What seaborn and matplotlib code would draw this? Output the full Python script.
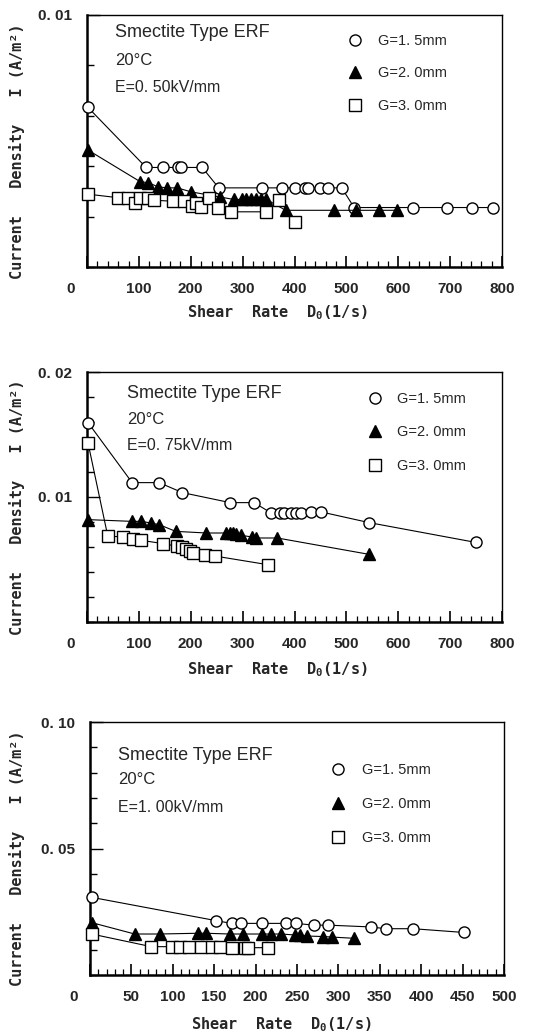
import numpy as np
import pandas as pd
import matplotlib
matplotlib.use("Agg")
import matplotlib.pyplot as plt
from matplotlib.lines import Line2D
from matplotlib.ticker import MultipleLocator, FixedLocator, FixedFormatter
from matplotlib.transforms import ScaledTranslation
import seaborn as sns

sns.set_style("ticks")
plt.rcParams['font.family'] = ['Liberation Sans', 'DejaVu Sans']

# ---------------- data ----------------
# Panel 1 : E = 0.50 kV/mm
p1_g15_x = [2, 114, 147, 175, 181, 222, 254, 337, 375, 401, 420, 426, 449, 465, 491, 515, 628, 694, 743, 783]
p1_g15_y = [0.00633, 0.00395, 0.00395, 0.00395, 0.00395, 0.00395, 0.00314, 0.00314, 0.00314, 0.00314,
            0.00314, 0.00314, 0.00314, 0.00314, 0.00314, 0.00236, 0.00236, 0.00236, 0.00236, 0.00236]
p1_g20_x = [2, 103, 118, 137, 155, 174, 201, 256, 283, 298, 307, 317, 326, 335, 346, 383, 477, 518, 563, 598]
p1_g20_y = [0.00464, 0.00338, 0.00335, 0.00318, 0.00314, 0.00314, 0.00298, 0.00278, 0.00268, 0.00268,
            0.00268, 0.00268, 0.00268, 0.00268, 0.00268, 0.00225, 0.00225, 0.00225, 0.00225, 0.00225]
p1_g30_x = [2, 60, 79, 92, 102, 118, 129, 165, 187, 203, 211, 220, 236, 253, 278, 346, 371, 400]
p1_g30_y = [0.00289, 0.00275, 0.00275, 0.00252, 0.00275, 0.00275, 0.00265, 0.00261, 0.00261, 0.00241,
            0.00252, 0.00238, 0.00272, 0.00236, 0.00219, 0.00219, 0.00265, 0.00179]

# Panel 2 : E = 0.75 kV/mm
p2_g15_x = [2, 87, 139, 184, 276, 322, 354, 373, 380, 393, 402, 412, 432, 452, 544, 749]
p2_g15_y = [0.01595, 0.01115, 0.01115, 0.01035, 0.00955, 0.00955, 0.00875, 0.00875, 0.00875, 0.00875,
            0.00875, 0.00875, 0.00880, 0.00880, 0.00795, 0.00637]
p2_g20_x = [2, 87, 105, 123, 139, 171, 230, 267, 275, 281, 288, 297, 319, 326, 367, 544]
p2_g20_y = [0.00819, 0.00805, 0.00805, 0.00792, 0.00779, 0.00725, 0.00712, 0.00712, 0.00712, 0.00712,
            0.00707, 0.00693, 0.00680, 0.00672, 0.00672, 0.00541]
p2_g30_x = [2, 40, 69, 89, 105, 147, 174, 184, 191, 198, 204, 227, 246, 348]
p2_g30_y = [0.01432, 0.00688, 0.00680, 0.00667, 0.00653, 0.00627, 0.00605, 0.00600, 0.00587, 0.00568,
            0.00555, 0.00533, 0.00528, 0.00459]

# Panel 3 : E = 1.00 kV/mm
p3_g15_x = [2, 152, 171, 182, 208, 237, 249, 270, 288, 339, 357, 390, 452]
p3_g15_y = [0.0307, 0.0215, 0.0204, 0.0204, 0.0204, 0.0204, 0.0204, 0.0197, 0.0197, 0.0190, 0.0183, 0.0183, 0.0168]
p3_g20_x = [2, 54, 84, 130, 140, 169, 185, 208, 219, 231, 248, 254, 262, 282, 292, 319]
p3_g20_y = [0.0207, 0.0162, 0.0162, 0.0165, 0.0165, 0.0162, 0.0162, 0.0162, 0.0162, 0.0162,
            0.0158, 0.0158, 0.0154, 0.0152, 0.0150, 0.0145]
p3_g30_x = [2, 74, 99, 109, 120, 134, 147, 157, 172, 187, 191, 215]
p3_g30_y = [0.0162, 0.0112, 0.0112, 0.0112, 0.0112, 0.0112, 0.0112, 0.0112, 0.0108, 0.0108, 0.0108, 0.0108]

series_labels = ["G=1. 5mm", "G=2. 0mm", "G=3. 0mm"]
field_labels = ["E=0. 50kV/mm", "E=0. 75kV/mm", "E=1. 00kV/mm"]
ytick_vals = [[0.01], [0.01, 0.02], [0.05, 0.10]]
ytick_text = [["0. 01"], ["0. 01", "0. 02"], ["0. 05", "0. 10"]]
xtick_vals = [list(range(0, 801, 100)), list(range(0, 801, 100)), list(range(0, 501, 50))]

panels = [
    [(p1_g15_x, p1_g15_y), (p1_g20_x, p1_g20_y), (p1_g30_x, p1_g30_y)],
    [(p2_g15_x, p2_g15_y), (p2_g20_x, p2_g20_y), (p2_g30_x, p2_g30_y)],
    [(p3_g15_x, p3_g15_y), (p3_g20_x, p3_g20_y), (p3_g30_x, p3_g30_y)],
]

# ---------------- layout / style ----------------
W, H = 537, 1033
fig = plt.figure(figsize=(W / 100, H / 100), dpi=100)
fig.patch.set_facecolor("white")

# axes boxes in pixels: left, top, right, bottom
boxes = [(87, 15, 502, 267), (87, 372, 502, 622), (90, 722, 504, 975)]
ylims = [(0, 0.01), (0, 0.02), (0, 0.10)]
xlims = [(0, 800), (0, 800), (0, 500)]
yminor = [0.002, 0.002, 0.01]
xminor = [20, 20, 10]
legend_pos = [(0.628, 0.925, 1.27), (0.676, 0.92, 1.33), (0.581, 0.838, 1.38)]
legend_pad = [1.1, 1.0, 1.15]
text_pos = [(0.067, [0.929, 0.821, 0.714]), (0.096, [0.916, 0.808, 0.708]), (0.068, [0.866, 0.771, 0.664])]
xlabel_pos = [(0.458, -0.143), (0.458, -0.152), (0.461, -0.158)]

styles = [
    dict(marker='o', markerfacecolor='white', markeredgecolor='black', markersize=8),
    dict(marker='^', markerfacecolor='black', markeredgecolor='black', markersize=8),
    dict(marker='s', markerfacecolor='white', markeredgecolor='black', markersize=8),
]

mono = 'DejaVu Sans Mono'

for i, (box, data) in enumerate(zip(boxes, panels)):
    l, t, r, b = box
    ax = fig.add_axes([l / W, 1 - b / H, (r - l) / W, (b - t) / H])
    ax.set_facecolor("white")
    for (xs, ys), st in zip(data, styles):
        df = pd.DataFrame({"x": xs, "y": ys})
        sns.lineplot(data=df, x="x", y="y", ax=ax, estimator=None, color='black',
                     linewidth=0.8, markeredgewidth=1.0, clip_on=False, zorder=3, **st)
    ax.set_xlim(*xlims[i])
    ax.set_ylim(*ylims[i])

    # ticks
    ax.xaxis.set_major_locator(FixedLocator(xtick_vals[i]))
    ax.xaxis.set_minor_locator(MultipleLocator(xminor[i]))
    ax.yaxis.set_major_locator(FixedLocator(ytick_vals[i]))
    ax.yaxis.set_major_formatter(FixedFormatter(ytick_text[i]))
    ax.yaxis.set_minor_locator(MultipleLocator(yminor[i]))
    ax.tick_params(axis='both', which='both', direction='in', color='black')
    ax.tick_params(axis='x', which='major', length=8, width=1.2, pad=11)
    ax.tick_params(axis='x', which='minor', length=4, width=0.9)
    ax.tick_params(axis='y', which='major', length=9, width=1.0, pad=11)
    ax.tick_params(axis='y', which='minor', length=5, width=1.0)
    for lab in ax.get_xticklabels() + ax.get_yticklabels():
        lab.set_fontfamily('Liberation Sans')
        lab.set_fontweight('bold')
        lab.set_fontsize(11)
    # "0" label sits left of the axis in the original
    xl = ax.get_xticklabels()
    xl[0].set_transform(xl[0].get_transform() + ScaledTranslation(-0.16, 0, fig.dpi_scale_trans))

    for side in ['left', 'bottom']:
        ax.spines[side].set_linewidth(1.8)
    for side in ['top', 'right']:
        ax.spines[side].set_linewidth(1.0)
        ax.spines[side].set_visible(True)
    for s in ax.spines.values():
        s.set_color('black')

    ax.set_xlabel("Shear  Rate  D$\\mathregular{_0}$(1/s)", fontfamily=mono, fontweight='bold', fontsize=11)
    ax.xaxis.set_label_coords(*xlabel_pos[i])
    ax.set_ylabel("Current   Density   I (A/m²)", fontfamily=mono, fontweight='bold', fontsize=11)
    ax.yaxis.set_label_coords(-0.149 if i < 2 else -0.157, 0.46)

    # annotation text
    tx, tys = text_pos[i]
    ax.text(tx, tys[0], "Smectite Type ERF", transform=ax.transAxes, fontsize=13, va='center', ha='left')
    ax.text(tx, tys[1], "20°C", transform=ax.transAxes, fontsize=12, va='center', ha='left')
    ax.text(tx, tys[2], field_labels[i], transform=ax.transAxes, fontsize=11.5, va='center', ha='left')

    # legend (markers only)
    handles = [Line2D([], [], linestyle='none', markeredgewidth=1.0, **st) for st in styles]
    lx, ly, lsp = legend_pos[i]
    ax.legend(handles, series_labels, loc='upper left', bbox_to_anchor=(lx, ly), frameon=False,
              borderpad=0, borderaxespad=0, handlelength=1.0, handletextpad=legend_pad[i],
              labelspacing=lsp, prop={'family': 'Liberation Sans', 'size': 10.5})

fig.savefig("out.png", dpi=100, facecolor="white")
